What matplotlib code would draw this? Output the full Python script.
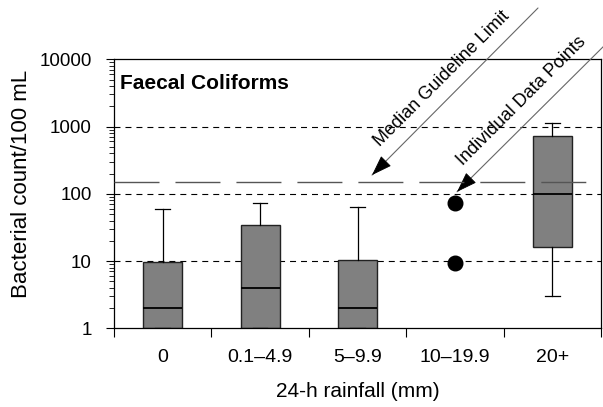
import numpy as np
import matplotlib
matplotlib.use("Agg")
import matplotlib.pyplot as plt
from matplotlib.ticker import FixedLocator, FuncFormatter, LogLocator, NullFormatter

plt.rcParams['font.family'] = ['Liberation Sans', 'DejaVu Sans']
plt.rcParams['lines.scale_dashes'] = False

categories = ['0', '0.1–4.9', '5–9.9', '10–19.9', '20+']
box_pos = [0, 1, 2, 4]
whis_lo = [1, 1, 1, 3]
q1 = [1, 1, 1, 16]
med = [2, 4, 2, 100]
q3 = [9.7, 34, 10.3, 720]
whis_hi = [60, 74, 64, 1130]
point_pos = [3, 3]
point_vals = [73.5, 9.4]
guideline = 150
grid_vals = [10, 100, 1000]

fig = plt.figure(figsize=(6.03, 4.07), dpi=100)
ax = fig.add_axes([114 / 603, 1 - 328.3 / 407, 487 / 603, 269 / 407])

for g in grid_vals:
    ax.axhline(g, color='black', lw=0.8, dashes=(4.3, 3.6), zorder=1)

stats = []
for i in range(len(box_pos)):
    stats.append(dict(med=med[i], q1=q1[i], q3=q3[i], whislo=whis_lo[i],
                      whishi=whis_hi[i], fliers=[]))
ax.bxp(stats, positions=box_pos, widths=0.4, patch_artist=True, showfliers=False,
       capwidths=0.15, manage_ticks=False, zorder=2,
       boxprops=dict(facecolor='#808080', edgecolor='#222222', lw=1.0),
       medianprops=dict(color='black', lw=1.3),
       whiskerprops=dict(color='black', lw=0.9),
       capprops=dict(color='black', lw=0.9))

ax.plot(point_pos, point_vals, 'o', color='black', ms=10.5, zorder=3)
ax.axhline(guideline, color='#555555', lw=1.0, dashes=(32.4, 11.5), zorder=4)

ax.set_yscale('log')
ax.set_ylim(1, 10000)
ax.set_xlim(-0.5, 4.5)

ax.yaxis.set_major_formatter(FuncFormatter(lambda v, p: f'{v:g}'))
ax.yaxis.set_minor_locator(LogLocator(base=10, subs=np.arange(2, 10)))
ax.yaxis.set_minor_formatter(NullFormatter())
ax.tick_params(axis='y', which='major', length=6, width=0.8, labelsize=13.5, pad=10)
ax.tick_params(axis='y', which='minor', length=3.5, width=0.6)

ax.set_xticks(range(len(categories)))
ax.set_xticklabels(categories)
ax.xaxis.set_minor_locator(FixedLocator(np.arange(-0.5, 5, 1)))
ax.tick_params(axis='x', which='major', length=0, labelsize=14, pad=15)
ax.tick_params(axis='x', which='minor', length=6.5, width=0.8)

for s in ax.spines.values():
    s.set_linewidth(0.9)

ax.set_xlabel('24-h rainfall (mm)', fontsize=15, labelpad=11.5)
ax.set_ylabel('Bacterial count/100 mL', fontsize=16)
ax.yaxis.set_label_coords(-0.168, 0.535)

ax.text(0.012, 0.89, 'Faecal Coliforms', transform=ax.transAxes, fontsize=15,
        fontweight='bold', va='baseline', ha='left')

# cut-off chart title at the very top edge
fig.text(293 / 603, 406.5 / 407, 'Rainfall vs. Faecal Coliforms', fontsize=19,
         fontweight='bold', ha='center', va='baseline')

# arrows
arrows = [((2.149, 190), (538, 399)), ((3.022, 107), (615, 372))]
for tip, tail in arrows:
    ax.annotate('', xy=tip, xycoords='data', xytext=tail, textcoords='figure pixels',
                arrowprops=dict(arrowstyle='-', color='#666666', lw=0.8,
                                shrinkA=0, shrinkB=0), annotation_clip=False)
    ax.annotate('', xy=tip, xycoords='data', xytext=(12, 12), textcoords='offset pixels',
                arrowprops=dict(arrowstyle='-|>,head_length=1.3,head_width=0.45',
                                mutation_scale=10, color='black', lw=0.6,
                                shrinkA=0, shrinkB=0))

fig.text(442 / 603, 1 - 79 / 407, 'Median Guideline Limit', fontsize=13,
         rotation=45, rotation_mode='anchor', ha='center', va='center')
fig.text(522 / 603, 1 - 101 / 407, 'Individual Data Points', fontsize=13,
         rotation=45, rotation_mode='anchor', ha='center', va='center')

fig.savefig('out.png', dpi=100)
